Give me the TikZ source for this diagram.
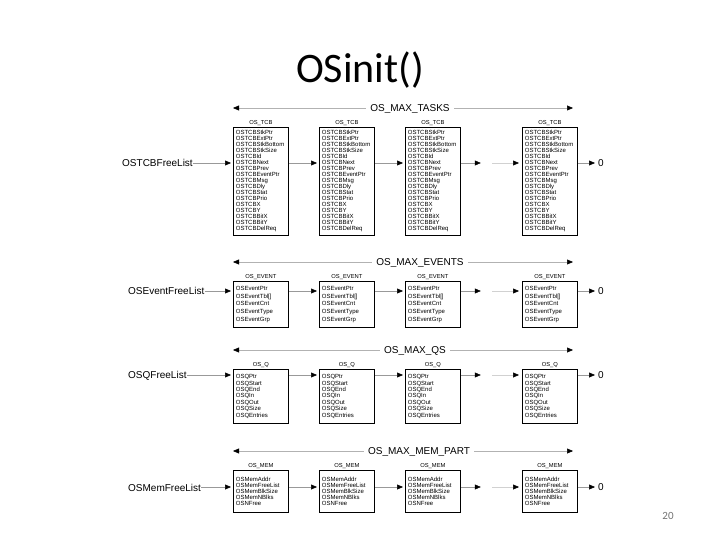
\documentclass[tikz,border=0pt]{standalone}
\usepackage{fontspec}
\setmainfont{Liberation Sans}
\newfontfamily\titlefont{Carlito}
\usetikzlibrary{arrows.meta}
\newcommand\rowchain[3]{%
  \path (#13.east|-#2) ++(20,0) coordinate (#1ga);
  \path (#14.west|-#2) ++(-30,0) coordinate (#1gb);
  \draw[conn] (#3.east) -- (#11.west|-#2);
  \draw[conn] (#11.east|-#2) -- (#12.west|-#2);
  \draw[conn] (#12.east|-#2) -- (#13.west|-#2);
  \draw[conn,shorten >=0pt] (#13.east|-#2) -- (#1ga);
  \draw[faint] (#1gb) -- (#14.west|-#2);
  \draw[conn] (#14.east|-#2) -- (#1z.west);
}
\begin{document}
\begin{tikzpicture}[x=1pt,y=-1pt,
  box/.style={draw, line width=0.8pt, anchor=north west, minimum width=55pt,
    text width=50pt, inner xsep=2.5pt, inner ysep=0pt, align=left},
  hdr/.style={anchor=south, inner sep=1.2pt, font=\fontsize{5.8}{6}\selectfont},
  lbl/.style={anchor=west, inner sep=0pt, font=\fontsize{10}{12}\selectfont},
  zero/.style={anchor=west, inner sep=1pt, font=\fontsize{10}{12}\selectfont},
  conn/.style={draw=black!40, line width=0.5pt,
    -{Triangle[length=6pt,width=5pt,color=black]}, shorten >=2pt},
  faint/.style={draw=black!18, line width=0.5pt,
    -{Triangle[length=6pt,width=5pt,color=black]}, shorten >=3pt},
  dim/.style={draw=black!30, line width=0.5pt,
    {Triangle[length=6pt,width=5pt,color=black]}-{Triangle[length=6pt,width=5pt,color=black]}},
  dimlab/.style={fill=white, inner xsep=4pt, inner ysep=1pt, font=\fontsize{10}{12}\selectfont}
]
\useasboundingbox (0,0) rectangle (720,540);

% title and page number
\node (title) at (360,70) {\titlefont\fontsize{42}{50}\selectfont OSinit()};
\node[text=black!55] (pg) at (668,516) {\titlefont\fontsize{11}{13}\selectfont 20};

% ================= TCB row =================
\coordinate (tdl) at (233,108);
\coordinate (tdr) at (573,108);
\draw[dim] (tdl) -- (tdr);
\node[dimlab] (tdlab) at (410,109) {OS\_MAX\_TASKS};
\foreach \i/\x in {1/233,2/319,3/405,4/522}{
  \node[box, minimum height=108pt, font=\fontsize{6}{6}\selectfont] (t\i) at (\x,127)
   {OSTCBStkPtr\\OSTCBExtPtr\\OSTCBStkBottom\\OSTCBStkSize\\OSTCBId\\OSTCBNext\\OSTCBPrev\\OSTCBEventPtr\\OSTCBMsg\\OSTCBDly\\OSTCBStat\\OSTCBPrio\\OSTCBX\\OSTCBY\\OSTCBBitX\\OSTCBBitY\\OSTCBDelReq};
  \node[hdr] (th\i) at (t\i.north) {OS\_TCB};
}
\coordinate (ty) at (0,163);
\node[lbl] (tlist) at (122,163) {OSTCBFreeList};
\node[zero] (tz) at (597,163) {0};
\rowchain{t}{ty}{tlist}

% ================= EVENT row =================
\coordinate (edl) at (233,262);
\coordinate (edr) at (573,262);
\draw[dim] (edl) -- (edr);
\node[dimlab] (edlab) at (420,263) {OS\_MAX\_EVENTS};
\foreach \i/\x in {1/233,2/319,3/405,4/522}{
  \node[box, minimum height=46pt, font=\fontsize{6}{7.6}\selectfont] (e\i) at (\x,281)
   {OSEventPtr\\OSEventTbl[]\\OSEventCnt\\OSEventType\\OSEventGrp};
  \node[hdr] (eh\i) at (e\i.north) {OS\_EVENT};
}
\coordinate (ey) at (0,291);
\node[lbl] (elist) at (128,291) {OSEventFreeList};
\node[zero] (ez) at (597,291) {0};
\rowchain{e}{ey}{elist}

% ================= Q row =================
\coordinate (qdl) at (233,350);
\coordinate (qdr) at (573,350);
\draw[dim] (qdl) -- (qdr);
\node[dimlab] (qdlab) at (415,351) {OS\_MAX\_QS};
\foreach \i/\x in {1/233,2/319,3/405,4/522}{
  \node[box, minimum height=54pt, font=\fontsize{6}{6.4}\selectfont] (q\i) at (\x,369)
   {OSQPtr\\OSQStart\\OSQEnd\\OSQIn\\OSQOut\\OSQSize\\OSQEntries};
  \node[hdr] (qh\i) at (q\i.north) {OS\_Q};
}
\coordinate (qy) at (0,375);
\node[lbl] (qlist) at (128,376) {OSQFreeList};
\node[zero] (qz) at (597,375) {0};
\draw[conn] (qlist.east|-qy) -- (q1.west|-qy);
\path (q3.east|-qy) ++(20,0) coordinate (qga);
\path (q4.west|-qy) ++(-30,0) coordinate (qgb);
\draw[conn] (q1.east|-qy) -- (q2.west|-qy);
\draw[conn] (q2.east|-qy) -- (q3.west|-qy);
\draw[conn,shorten >=0pt] (q3.east|-qy) -- (qga);
\draw[faint] (qgb) -- (q4.west|-qy);
\draw[conn] (q4.east|-qy) -- (qz.west);

% ================= MEM row =================
\coordinate (mdl) at (233,451);
\coordinate (mdr) at (573,451);
\draw[dim] (mdl) -- (mdr);
\node[dimlab] (mdlab) at (419,452) {OS\_MAX\_MEM\_PART};
\foreach \i/\x in {1/233,2/319,3/405,4/522}{
  \node[box, minimum height=42pt, font=\fontsize{6}{5.9}\selectfont] (m\i) at (\x,470)
   {OSMemAddr\\OSMemFreeList\\OSMemBlkSize\\OSMemNBlks\\OSNFree};
  \node[hdr] (mh\i) at (m\i.north) {OS\_MEM};
}
\coordinate (my) at (0,487);
\node[lbl] (mlist) at (128,488) {OSMemFreeList};
\node[zero] (mz) at (597,487) {0};
\draw[conn] (mlist.east|-my) -- (m1.west|-my);
\path (m3.east|-my) ++(20,0) coordinate (mga);
\path (m4.west|-my) ++(-30,0) coordinate (mgb);
\draw[conn] (m1.east|-my) -- (m2.west|-my);
\draw[conn] (m2.east|-my) -- (m3.west|-my);
\draw[conn,shorten >=0pt] (m3.east|-my) -- (mga);
\draw[faint] (mgb) -- (m4.west|-my);
\draw[conn] (m4.east|-my) -- (mz.west);
\end{tikzpicture}
\end{document}
